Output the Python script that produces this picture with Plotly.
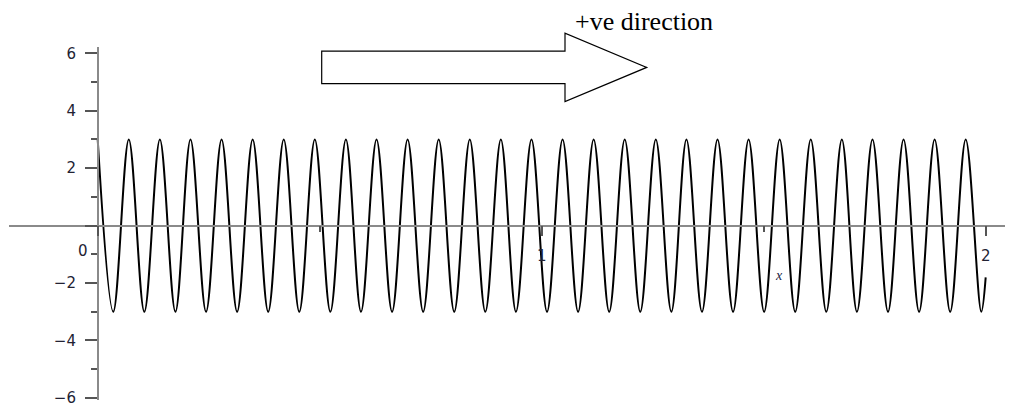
import plotly.graph_objects as go

OFF = 8                      # page body margin the browser adds
W, H = 1013 - OFF, 415 - OFF

# crests and troughs of the wave (x in axis units)
wave_x = [0.000, 0.035, 0.070, 0.105, 0.140, 0.175, 0.209, 0.244, 0.279, 0.314,
          0.349, 0.384, 0.419, 0.454, 0.489, 0.524, 0.559, 0.593, 0.628, 0.663,
          0.698, 0.733, 0.768, 0.803, 0.838, 0.873, 0.908, 0.942, 0.977, 1.012,
          1.047, 1.082, 1.117, 1.152, 1.187, 1.222, 1.257, 1.292, 1.326, 1.361,
          1.396, 1.431, 1.466, 1.501, 1.536, 1.571, 1.606, 1.641, 1.676, 1.710,
          1.745, 1.780, 1.815, 1.850, 1.885, 1.920, 1.955, 1.990, 2.000]
wave_y = [3, -3, 3, -3, 3, -3, 3, -3, 3, -3,
          3, -3, 3, -3, 3, -3, 3, -3, 3, -3,
          3, -3, 3, -3, 3, -3, 3, -3, 3, -3,
          3, -3, 3, -3, 3, -3, 3, -3, 3, -3,
          3, -3, 3, -3, 3, -3, 3, -3, 3, -3,
          3, -3, 3, -3, 3, -3, 3, -3, -1.8]

x_major = [0, 1, 2]
x_major_text = ["", "1", "2"]
x_minor = [0.5, 1.5]
y_major = [-6, -4, -2, 0, 2, 4, 6]
y_major_text = ["\u22126", "\u22124", "\u22122", "", "2", "4", "6"]
y_minor = [-5, -3, -1, 1, 3, 5]

arrow_label = "+ve direction"


def px(x, y):
    # screen pixel position -> paper coords (margins are zero)
    return (x - OFF) / W, 1 - (y - OFF) / H


fig = go.Figure()
fig.add_trace(go.Scatter(x=wave_x, y=wave_y, mode="lines",
                         line=dict(color="black", width=2, shape="spline", smoothing=1),
                         hoverinfo="skip", showlegend=False))

axis_col = "#8a8a8a"
tick_col = "#555555"
tick_font = dict(family="DejaVu Sans", size=15, color="#222233")

x0p, _ = px(9, 0)
_, ybot = px(0, 407)
_, ytop = px(0, 46)
yaxp, xaxp = px(97.7, 228.5)

fig.update_layout(
    width=W, height=H,
    margin=dict(l=0, r=0, t=0, b=0),
    plot_bgcolor="white", paper_bgcolor="white",
    showlegend=False,
    xaxis=dict(domain=[x0p, 1], range=[-0.1998, 2.0615],
               anchor="free", position=xaxp,
               showline=True, linecolor=axis_col, linewidth=1.5,
               showgrid=False, zeroline=False,
               tickmode="array", tickvals=x_major, ticktext=x_major_text,
               ticks="outside", ticklen=10, tickwidth=1.5, tickcolor=tick_col,
               ticklabelstandoff=7, tickfont=tick_font,
               minor=dict(tickvals=x_minor, ticks="outside", ticklen=6,
                          tickwidth=1.5, tickcolor=tick_col, showgrid=False)),
    yaxis=dict(domain=[ybot, ytop], range=[-6.080, 6.216],
               anchor="free", position=yaxp,
               showline=True, linecolor=axis_col, linewidth=1.5,
               showgrid=False, zeroline=False,
               tickmode="array", tickvals=y_major, ticktext=y_major_text,
               ticks="outside", ticklen=12, tickwidth=1.5, tickcolor=tick_col,
               ticklabelstandoff=6, tickfont=tick_font,
               minor=dict(tickvals=y_minor, ticks="outside", ticklen=6,
                          tickwidth=1.5, tickcolor=tick_col, showgrid=False)),
)

# block arrow
pts = [(321.7, 50), (565, 50), (565, 31.7), (646.7, 66.7),
       (565, 101.7), (565, 83.3), (321.7, 83.3)]
path = ""
for i, (a, b) in enumerate(pts):
    u, v = px(a, b)
    path += ("M" if i == 0 else " L") + f" {u:.5f},{v:.5f}"
path += " Z"
fig.add_shape(type="path", path=path, xref="paper", yref="paper",
              line=dict(color="black", width=1.2), fillcolor="white")

tx, ty = px(574, 20)
fig.add_annotation(x=tx, y=ty, xref="paper", yref="paper", text=arrow_label,
                   showarrow=False, xanchor="left", yanchor="middle", borderpad=0,
                   font=dict(family="Liberation Serif", size=26, color="black"))

ox, oy = px(83, 254)
fig.add_annotation(x=ox, y=oy, xref="paper", yref="paper", text="0",
                   showarrow=False, xanchor="center", yanchor="middle",
                   font=tick_font)

lx, ly = px(779, 280)
fig.add_annotation(x=lx, y=ly, xref="paper", yref="paper", text="<i>x</i>",
                   showarrow=False, xanchor="center", yanchor="middle",
                   font=dict(family="Liberation Serif", size=14, color="#222244"))

fig.write_html("out.html")
